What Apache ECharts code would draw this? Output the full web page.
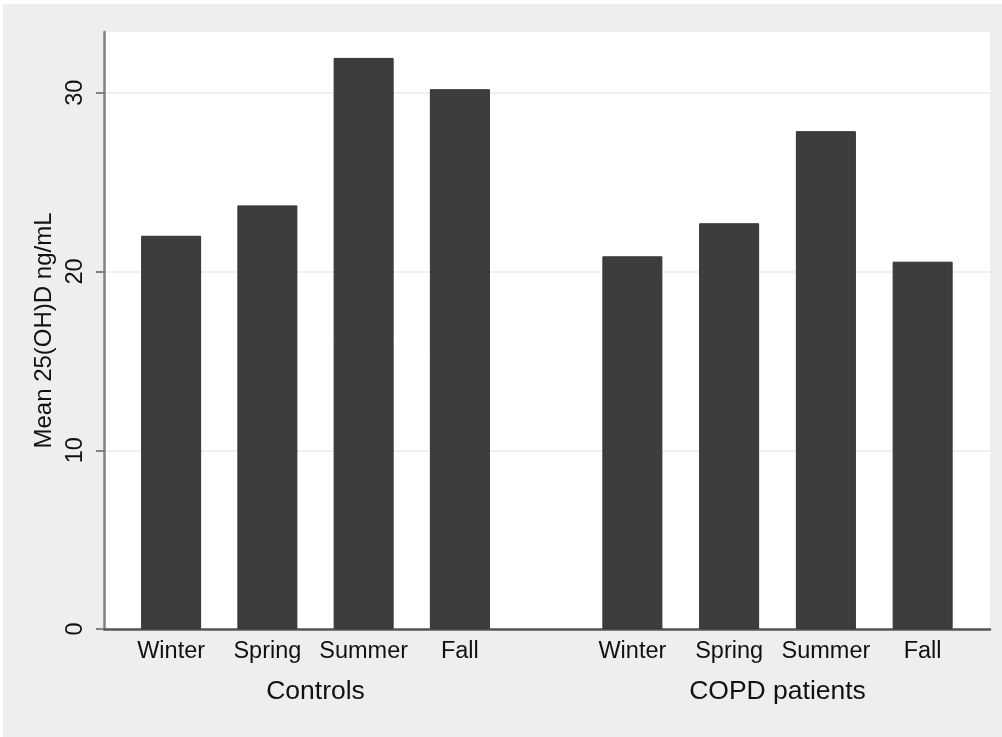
<!DOCTYPE html>
<html>
<head>
<meta charset="utf-8">
<script src="https://cdn.jsdelivr.net/npm/echarts@6/dist/echarts.min.js"></script>
<style>
html,body{margin:0;padding:0;background:#ffffff;}
#chart{position:absolute;left:3px;top:4px;width:999px;height:733px;}
</style>
</head>
<body>
<div id="chart"></div>
<script>
const seasons = ["Winter", "Spring", "Summer", "Fall"];
const groups = ["Controls", "COPD patients"];
const controlsValues = [22.0, 23.7, 31.95, 30.2];
const copdValues = [20.85, 22.7, 27.85, 20.55];
const yTicks = [0, 10, 20, 30];
const yTitle = "Mean 25(OH)D ng/mL";
const yMax = 33.4;

const FONT = "Liberation Sans, Arial, Helvetica, sans-serif";
const chart = echarts.init(document.getElementById("chart"), null, {renderer: "canvas"});

const barColor = "#3d3d3d";
const commonTop = 28, commonBottom = 108;

function catAxis(gi, name) {
  return {gridIndex: gi, type: "category", data: seasons, axisLine: {show: false}, axisTick: {show: false},
    axisLabel: {interval: 0, fontSize: 23.5, color: "#111", fontFamily: FONT, margin: 11},
    name: name, nameLocation: "middle", nameGap: 49,
    nameTextStyle: {fontSize: 26.5, color: "#111", fontFamily: FONT}};
}

const option = {
  backgroundColor: "#eeeeee",
  animation: false,
  grid: [
    {left: 101, right: 12, top: commonTop, bottom: commonBottom, show: true, backgroundColor: "#ffffff", borderWidth: 0},
    {left: 120, width: 385, top: commonTop, bottom: commonBottom},
    {left: 581, width: 387, top: commonTop, bottom: commonBottom}
  ],
  xAxis: [
    {gridIndex: 0, type: "value", min: 0, max: 1, axisLine: {show: true, lineStyle: {color: "#555555", width: 2.5}},
     axisTick: {show: false}, axisLabel: {show: false}, splitLine: {show: false}},
    catAxis(1, groups[0]),
    catAxis(2, groups[1])
  ],
  yAxis: [
    {gridIndex: 0, type: "value", min: 0, max: yMax, interval: 10,
     axisLine: {show: true, lineStyle: {color: "#808080", width: 2.5}},
     axisTick: {show: true, length: 8, lineStyle: {color: "#808080", width: 2}, customValues: yTicks},
     axisLabel: {rotate: 90, fontSize: 23.5, color: "#111", fontFamily: FONT, margin: 16, customValues: yTicks},
     splitLine: {show: true, lineStyle: {color: "#f0f0f0", width: 2}},
     name: yTitle, nameLocation: "middle", nameGap: 44,
     nameTextStyle: {fontSize: 24, color: "#111", fontFamily: FONT}},
    {gridIndex: 1, type: "value", min: 0, max: yMax, show: false},
    {gridIndex: 2, type: "value", min: 0, max: yMax, show: false}
  ],
  series: [
    {type: "bar", xAxisIndex: 1, yAxisIndex: 1, data: controlsValues, barWidth: 60,
     itemStyle: {color: barColor, borderColor: "#333333", borderWidth: 1}},
    {type: "bar", xAxisIndex: 2, yAxisIndex: 2, data: copdValues, barWidth: 60,
     itemStyle: {color: barColor, borderColor: "#333333", borderWidth: 1}}
  ]
};
chart.setOption(option);
</script>
</body>
</html>
